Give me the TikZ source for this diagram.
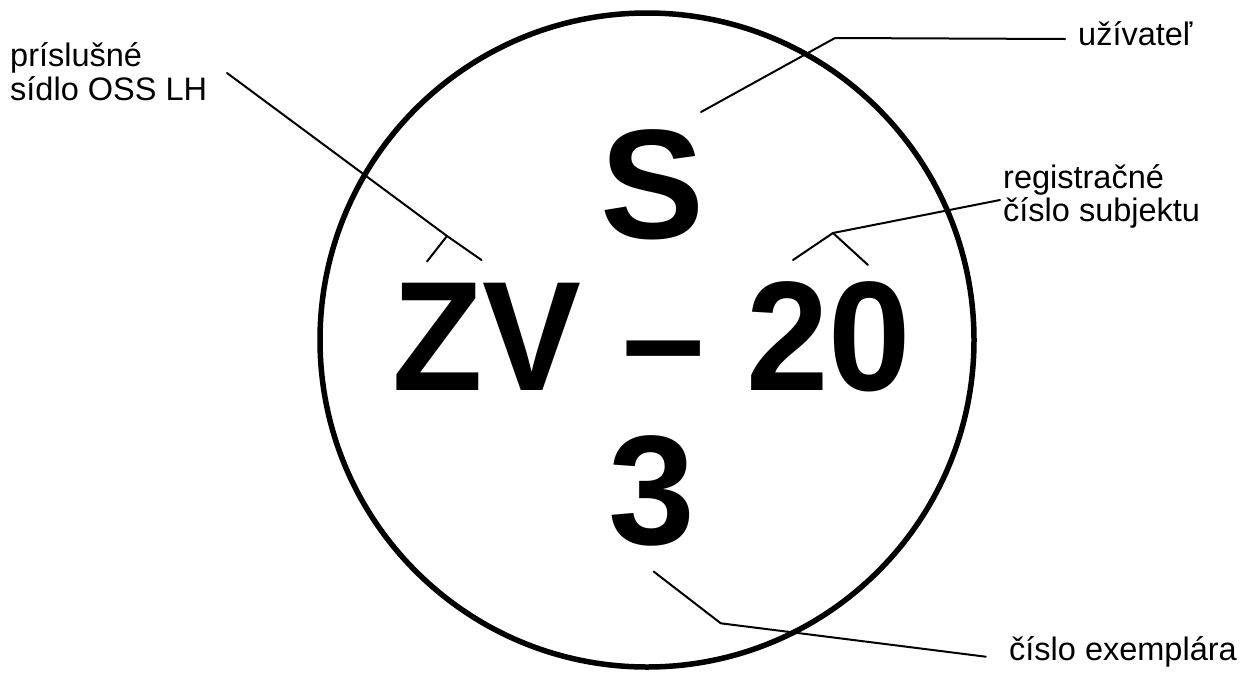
\documentclass[tikz,border=0pt]{standalone}
\usepackage{fontspec}
\usepackage{graphicx}
\setmainfont{Liberation Sans}
\begin{document}
\begin{tikzpicture}[x=1pt,y=-1pt,
  lbl/.style={inner sep=0pt, anchor=base west, font=\fontsize{32.5pt}{33pt}\selectfont},
  big/.style={inner sep=0pt, anchor=base, font=\fontsize{156pt}{160pt}\selectfont\bfseries},
  leader/.style={line width=2pt, line cap=round, line join=round},
  ringstyle/.style={circle, draw, line width=5.5pt, minimum size=654pt, inner sep=0pt}]
\useasboundingbox (0,0) rectangle (1245,673);
\node[ringstyle] (ring) at (647,340) {};
\node[big] (nS) at (652.5,238) {S};
\node[big] (nZV) at (651.5,390) {\scalebox{0.95}[1]{ZV – 20}};
\node[big] (n3) at (651.5,544) {3};
\node[lbl] (la1) at (10,66.7) {príslušné};
\node[lbl] (la2) at (10,100) {sídlo OSS LH};
\node[lbl] (lb) at (1078,45) {užívateľ};
\node[lbl] (lc1) at (1003,188) {registračné};
\node[lbl] (lc2) at (1003,221) {číslo subjektu};
\node[lbl] (ld) at (1009,660) {číslo exemplára};
% leader 1
\coordinate (a0) at (227,73);
\coordinate (aj) at (447,236);
\coordinate (aR) at (481.5,260);
\coordinate (aL) at (427,261.5);
\draw[leader] (a0) -- (aj) -- (aR);
\draw[leader] (aj) -- (aL);
% leader 2
\coordinate (b0) at (1065,39);
\coordinate (b1) at (835,38);
\coordinate (b2) at (701,112);
\draw[leader] (b0) -- (b1) -- (b2);
% leader 3
\coordinate (c0) at (1000,200);
\coordinate (cj) at (833,233);
\coordinate (cL) at (793,260);
\coordinate (cR) at (868,265);
\draw[leader] (c0) -- (cj) -- (cL);
\draw[leader] (cj) -- (cR);
% leader 4
\coordinate (d0) at (985.8,656.7);
\coordinate (d1) at (720.8,623.3);
\coordinate (d2) at (653.6,571.5);
\draw[leader] (d0) -- (d1) -- (d2);
\end{tikzpicture}
\end{document}
